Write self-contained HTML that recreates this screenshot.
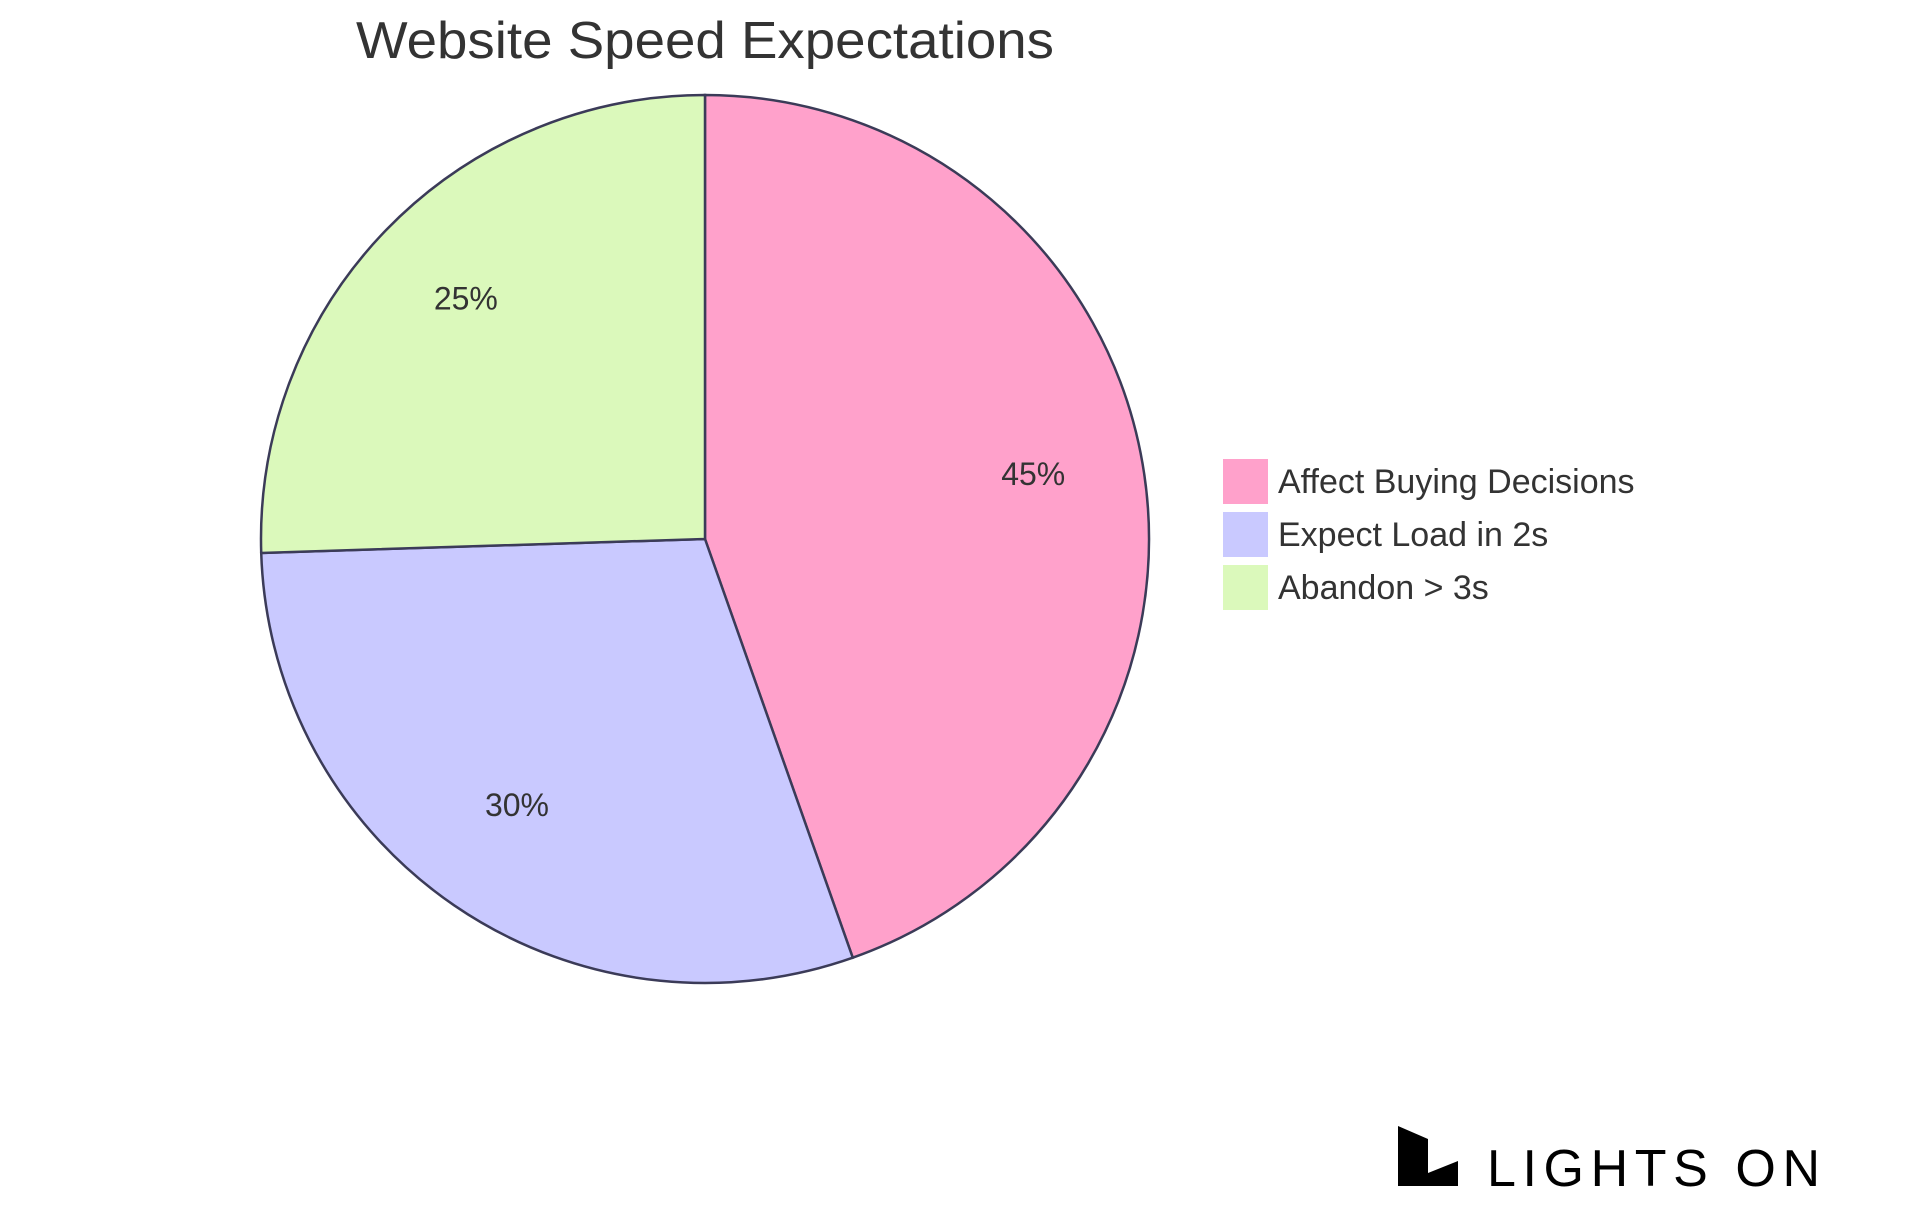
<!DOCTYPE html>
<html><head><meta charset="utf-8"><style>
html,body{margin:0;padding:0;background:#fff;}
svg{display:block;font-family:"Liberation Sans",sans-serif;}
</style></head><body>
<svg id="chart" width="1920" height="1215" viewBox="0 0 1920 1215">
<rect width="1920" height="1215" fill="#fff"/>
<text x="705" y="58" text-anchor="middle" font-size="52" fill="#333" textLength="698" lengthAdjust="spacingAndGlyphs">Website Speed Expectations</text>
<g id="slices"></g>
<g id="labels"></g>
<g id="legend"></g>
<g>
<polygon points="1398,1126 1428,1139 1428,1173 1458,1161 1458,1186 1398,1186" fill="#000"/>
<text x="1487" y="1186" font-size="52" fill="#000" textLength="333" lengthAdjust="spacing">LIGHTS ON</text>
</g>
</svg>
<script>
const categories = ["Affect Buying Decisions", "Expect Load in 2s", "Abandon > 3s"];
const values = [44.6, 29.9, 25.5];
const displayLabels = ["45%", "30%", "25%"];
const colors = ["#ffa1cb", "#c9c9ff", "#dbf9bb"];
const cx = 705, cy = 539, r = 444, labelR = 0.75;
const NS = "http://www.w3.org/2000/svg";
const total = values.reduce((a,b)=>a+b,0);
function pt(angle, rad){ return [cx + rad*Math.sin(angle), cy - rad*Math.cos(angle)]; }
let a0 = 0;
const sg = document.getElementById('slices'), lg = document.getElementById('labels'), leg = document.getElementById('legend');
values.forEach((v,i)=>{
  const a1 = a0 + v/total*2*Math.PI;
  const [x0,y0] = pt(a0,r), [x1,y1] = pt(a1,r);
  const p = document.createElementNS(NS,'path');
  p.setAttribute('d', `M${cx},${cy} L${x0},${y0} A${r},${r} 0 ${a1-a0>Math.PI?1:0} 1 ${x1},${y1} Z`);
  p.setAttribute('fill', colors[i]);
  p.setAttribute('stroke', '#3b3b58');
  p.setAttribute('stroke-width', '2.5');
  
  
  sg.appendChild(p);
  const [lx,ly] = pt((a0+a1)/2, r*labelR);
  const t = document.createElementNS(NS,'text');
  t.setAttribute('x', lx); t.setAttribute('y', ly+2);
  t.setAttribute('text-anchor','middle'); t.setAttribute('font-size','32'); t.setAttribute('fill','#333');
  t.textContent = displayLabels[i];
  
  
  lg.appendChild(t);
  const g = document.createElementNS(NS,'g');
  
  
  const sq = document.createElementNS(NS,'rect');
  sq.setAttribute('x',1223); sq.setAttribute('y',459+i*53); sq.setAttribute('width',45); sq.setAttribute('height',45);
  sq.setAttribute('fill',colors[i]);
  g.appendChild(sq);
  const tt = document.createElementNS(NS,'text');
  tt.setAttribute('x',1278); tt.setAttribute('y',493+i*53); tt.setAttribute('font-size','34'); tt.setAttribute('fill','#333');
  tt.textContent = categories[i];
  g.appendChild(tt);
  leg.appendChild(g);
  a0 = a1;
});
</script>
</body></html>
